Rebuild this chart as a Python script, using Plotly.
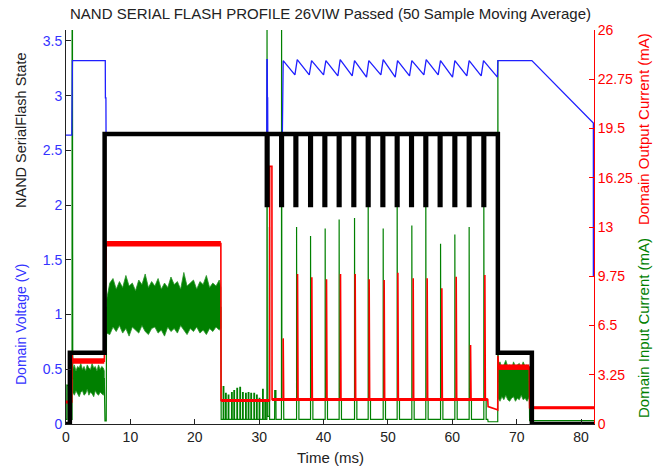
import plotly.graph_objects as go

# ---------------- data ----------------
x_tick_vals = [0, 10, 20, 30, 40, 50, 60, 70, 80]
x_tick_text = ["0", "10", "20", "30", "40", "50", "60", "70", "80"]
v_tick_vals = [0, 0.5, 1, 1.5, 2, 2.5, 3, 3.5]
v_tick_text = ["0", "0.5", "1", "1.5", "2", "2.5", "3", "3.5"]
i_tick_vals = [0, 3.25, 6.5, 9.75, 13, 16.25, 19.5, 22.75, 26]
i_tick_text = ["0", "3.25", "6.5", "9.75", "13", "16.25", "19.5", "22.75", "26"]

# NAND SerialFlash state (left axis units)
state_t = [0, 0.6, 0.6, 6.0, 6.0, 67.07, 67.07, 72.35, 72.35, 82.0]
state_v = [0, 0, 0.65, 0.65, 2.65, 2.65, 0.65, 0.65, 0, 0]
state_active_level = 2.65
state_pulse_level = 2.0
state_pulse_t = [31.24, 33.48, 35.7, 37.98, 40.2, 42.42, 44.7, 46.93,
                 49.21, 51.43, 53.66, 55.88, 58.1, 60.39, 62.61, 64.89]

# Domain voltage (V)
volt_head_t = [0, 0.9, 1.0, 6.1, 6.12, 6.2, 6.22, 31.18, 31.2, 31.26, 31.28, 31.32, 31.34, 33.6]
volt_head_v = [2.64, 2.64, 3.32, 3.32, 2.98, 2.98, 2.64, 2.64, 3.33, 3.33, 2.98, 2.98, 2.64, 2.64]
saw_peak_t = [33.73, 35.91, 38.14, 40.36, 42.58, 44.81, 47.03, 49.26,
              51.49, 53.71, 55.94, 58.16, 60.39, 62.61, 64.84]
saw_peak_v = [3.32, 3.33, 3.32, 3.32, 3.33, 3.32, 3.32, 3.33,
              3.32, 3.32, 3.33, 3.32, 3.32, 3.32, 3.32]
saw_trough_t = [35.55, 37.78, 40.0, 42.22, 44.45, 46.67, 48.9, 51.13,
                53.35, 55.58, 57.8, 60.03, 62.25, 64.48, 67.0]
saw_trough_v = [3.19, 3.19, 3.19, 3.18, 3.18, 3.17, 3.19, 3.17,
                3.18, 3.19, 3.19, 3.17, 3.18, 3.18, 3.17]
volt_tail_t = [67.07, 72.35, 81.9, 81.9]
volt_tail_v = [3.32, 3.32, 2.75, 1.35]

# Domain input current (mA)
in_head_t = [0, 0.12, 0.13, 0.35, 0.36, 0.94, 0.95, 1.0, 1.05, 5.95, 6.05, 6.25, 6.3, 24.05, 24.1]
in_head_v = [0.3, 0.3, 2.6, 2.5, 0.3, 0.3, 27.0, 27.0, 3.0, 3.0, 0.2, 0.2, 7.7, 7.7, 0.3]
in_idle_base = 0.3
in_idle_spk_t = [24.41, 24.78, 25.19, 25.71, 26.07, 26.54, 27.0, 27.42,
                 27.89, 28.3, 28.71, 29.18, 29.59, 30.0, 30.53, 30.89]
in_idle_spk_v = [2.46, 2.02, 1.91, 2.07, 2.2, 2.35, 2.42, 2.07,
                 2.02, 2.07, 2.02, 2.02, 1.91, 1.7, 2.29, 1.55]
in_mid_t = [31.2, 31.22, 31.27, 31.55, 31.57, 31.6, 31.62, 32.4, 32.42, 32.6, 32.62,
            33.46, 33.48, 33.53, 33.8, 33.82]
in_mid_v = [0.3, 27.0, 0.5, 0.5, 13.0, 13.0, 0.3, 0.3, 2.2, 2.2, 0.3,
            0.3, 27.0, 1.6, 1.6, 0.3]
in_prog_base = 0.3
in_prog_shelf = 1.6
in_prog_spk_t = [35.81, 37.98, 40.25, 42.42, 44.81, 46.93, 49.26,
                 51.43, 53.71, 55.88, 58.17, 60.39, 62.61, 64.89]
in_prog_spk_v = [13.0, 12.4, 12.9, 13.5, 13.6, 15.5, 12.9,
                 15.5, 13.1, 15.5, 11.9, 12.5, 13.0, 15.5]
in_tail_t = [65.5, 65.55, 67.05, 67.07, 67.12, 71.95, 72.0, 82.0]
in_tail_v = [0.3, 0.15, 0.15, 24.0, 2.8, 2.8, 0.22, 0.22]

# noisy input-current bands (upper / lower envelopes)
band1_t = [1.05, 1.3, 1.55, 1.8, 2.05, 2.3, 2.55, 2.8, 3.05, 3.3, 3.55, 3.8, 4.05,
           4.3, 4.55, 4.8, 5.05, 5.3, 5.55, 5.8, 5.95]
band1_hi = [3.6, 3.9, 3.5, 3.8, 3.7, 4.0, 3.6, 3.8, 3.5, 3.9, 3.7, 3.6, 4.0,
            3.7, 3.8, 3.5, 3.9, 3.6, 3.8, 3.7, 3.5]
band1_lo = [2.1, 1.9, 2.2, 2.0, 1.8, 2.1, 2.2, 1.9, 2.0, 2.3, 1.9, 2.1, 2.0,
            1.8, 2.2, 2.0, 1.9, 2.1, 2.0, 1.9, 2.1]
band2_t = [6.3, 6.8, 7.3, 7.8, 8.3, 8.8, 9.3, 9.8, 10.3, 10.8, 11.3, 11.8, 12.3,
           12.8, 13.3, 13.8, 14.3, 14.8, 15.3, 15.8, 16.3, 16.8, 17.3, 17.8, 18.3,
           18.8, 19.3, 19.8, 20.3, 20.8, 21.3, 21.8, 22.3, 22.8, 23.3, 23.8, 24.05]
band2_hi = [8.2, 9.3, 9.6, 8.9, 9.4, 9.0, 9.8, 9.1, 9.3, 8.8, 9.5, 9.2, 9.9,
            9.0, 9.4, 9.1, 9.6, 8.9, 9.3, 9.0, 9.7, 9.2, 9.4, 8.9, 10.0,
            9.1, 9.3, 9.5, 8.9, 9.4, 9.2, 9.8, 9.0, 9.3, 9.1, 9.5, 9.0]
band2_lo = [6.0, 5.9, 6.4, 6.1, 6.5, 6.0, 6.3, 5.8, 6.4, 6.2, 6.0, 6.5, 6.1,
            5.9, 6.3, 6.4, 6.0, 6.2, 5.8, 6.4, 6.1, 6.3, 6.0, 6.5, 6.2,
            5.9, 6.3, 6.1, 6.4, 6.0, 6.2, 5.9, 6.3, 6.1, 6.4, 6.2, 6.3]
band3_t = [67.12, 67.4, 67.7, 68.0, 68.3, 68.6, 68.9, 69.2, 69.5, 69.8, 70.1,
           70.4, 70.7, 71.0, 71.3, 71.6, 71.95]
band3_hi = [3.9, 4.1, 3.7, 3.9, 4.2, 3.8, 3.9, 3.6, 4.1, 3.8, 3.9,
            4.0, 3.7, 4.1, 3.8, 3.9, 3.7]
band3_lo = [1.7, 1.5, 1.8, 1.6, 1.9, 1.6, 1.5, 1.7, 1.8, 1.5, 1.7,
            1.6, 1.9, 1.6, 1.7, 1.5, 1.8]

# Domain output current (mA)
out_head_t = [0, 0.9, 0.93, 1.05, 5.95, 6.25, 24.05, 24.08, 31.62, 31.64, 31.98, 32.0]
out_head_v = [1.45, 1.45, 4.6, 4.15, 4.15, 11.9, 11.9, 1.55, 1.55, 17.0, 17.0, 1.62]
out_base = 1.62
out_spk_t = [33.73, 35.96, 38.18, 40.46, 42.63, 44.91, 47.08, 49.41,
             51.54, 53.92, 56.09, 58.37, 60.6, 62.83, 65.05]
out_spk_v = [5.65, 9.9, 9.68, 9.55, 9.9, 9.9, 9.55, 9.5,
             9.98, 9.61, 9.61, 8.95, 9.72, 5.21, 9.83]
out_tail_t = [65.5, 65.55, 66.9, 67.05, 67.08, 67.2, 71.95, 72.0, 82.0]
out_tail_v = [1.62, 1.15, 0.95, 0.92, 4.5, 3.75, 3.75, 1.08, 1.08]
# noisy (thick) output-current plateaus
out_band_t0 = [1.05, 6.3, 67.15]
out_band_t1 = [5.95, 24.05, 71.95]
out_band_v = [4.15, 11.9, 3.75]
out_floor_t0 = [0, 24.1, 32.0, 72.0]
out_floor_t1 = [0.9, 31.6, 65.5, 82.0]
out_floor_v = [1.45, 1.55, 1.62, 1.08]

# ---------------- build polylines ----------------
GREEN = "#008000"
RED = "#ff0000"
BLUE = "#1f1fff"
LBLUE = "#3333ff"

bx, by = [], []
for i, (t, v) in enumerate(zip(state_t, state_v)):
    bx.append(t)
    by.append(v)
    if i + 1 < len(state_t) and v == state_active_level and state_v[i + 1] == state_active_level:
        for tp in state_pulse_t:
            if t < tp < state_t[i + 1]:
                bx += [tp - 0.05, tp - 0.05, tp + 0.05, tp + 0.05]
                by += [state_active_level, state_pulse_level, state_pulse_level, state_active_level]

vx, vy = list(volt_head_t), list(volt_head_v)
for pt, pv, tt, tv in zip(saw_peak_t, saw_peak_v, saw_trough_t, saw_trough_v):
    vx += [pt, tt]
    vy += [pv, tv]
vx += volt_tail_t
vy += volt_tail_v

gx, gy = list(in_head_t), list(in_head_v)
for t, v in zip(in_idle_spk_t, in_idle_spk_v):
    gx += [t, t, t + 0.1, t + 0.1]
    gy += [in_idle_base, v, v, in_idle_base]
gx += in_mid_t
gy += in_mid_v
for t, v in zip(in_prog_spk_t, in_prog_spk_v):
    gx += [t, t, t + 0.04, t + 0.04, t + 0.36, t + 0.36]
    gy += [in_prog_base, v, v, in_prog_shelf, in_prog_shelf, in_prog_base]
gx += in_tail_t
gy += in_tail_v

px, py = [], []
for bt, hi, lo in [(band1_t, band1_hi, band1_lo), (band2_t, band2_hi, band2_lo),
                   (band3_t, band3_hi, band3_lo)]:
    px += list(bt) + list(reversed(bt)) + [bt[0], None]
    py += list(hi) + list(reversed(lo)) + [hi[0], None]

rx, ry = list(out_head_t), list(out_head_v)
for t, v in zip(out_spk_t, out_spk_v):
    rx += [t, t, t + 0.08, t + 0.08]
    ry += [out_base, v, v, out_base]
rx += out_tail_t
ry += out_tail_v

pbx, pby = [], []
for a, b, v in zip(out_band_t0, out_band_t1, out_band_v):
    pbx += [a, b, None]
    pby += [v, v, None]
fbx, fby = [], []
for a, b, v in zip(out_floor_t0, out_floor_t1, out_floor_v):
    fbx += [a, b, None]
    fby += [v, v, None]

# ---------------- figure ----------------
fig = go.Figure()
fig.add_trace(go.Scatter(x=px, y=py, mode="lines", fill="toself", fillcolor=GREEN,
                         line=dict(color="#2a942a", width=0.8), yaxis="y", hoverinfo="skip"))
fig.add_trace(go.Scatter(x=gx, y=gy, mode="lines", line=dict(color=GREEN, width=1.2), yaxis="y"))
fig.add_trace(go.Scatter(x=fbx, y=fby, mode="lines", line=dict(color=RED, width=3), yaxis="y"))
fig.add_trace(go.Scatter(x=pbx, y=pby, mode="lines", line=dict(color=RED, width=5.5), yaxis="y"))
fig.add_trace(go.Scatter(x=rx, y=ry, mode="lines", line=dict(color=RED, width=1.6), yaxis="y"))
fig.add_trace(go.Scatter(x=vx, y=vy, mode="lines", line=dict(color=BLUE, width=1.3), yaxis="y2"))
fig.add_trace(go.Scatter(x=bx, y=by, mode="lines", line=dict(color="black", width=4.5), yaxis="y2"))

FONT = "Liberation Sans, Arial, sans-serif"
fig.update_layout(
    width=665, height=469,
    margin=dict(l=66, r=71, t=30, b=45),
    plot_bgcolor="white", paper_bgcolor="white",
    showlegend=False,
    font=dict(family=FONT, size=14, color="#222"),
    xaxis=dict(range=[0, 82], tickvals=x_tick_vals, ticktext=x_tick_text,
               ticks="inside", ticklen=5, tickcolor="#222", showline=True,
               linecolor="#222", linewidth=1, showgrid=False, zeroline=False,
               tickfont=dict(size=14, color="#222")),
    yaxis=dict(range=[0, 26], side="right", tickvals=i_tick_vals, ticktext=i_tick_text,
               ticks="inside", ticklen=5, tickcolor=RED, showline=True, linecolor=RED,
               linewidth=1, showgrid=False, zeroline=False,
               tickfont=dict(size=14, color=RED)),
    yaxis2=dict(range=[0, 3.6], side="left", overlaying="y", tickvals=v_tick_vals,
                ticktext=v_tick_text, ticks="inside", ticklen=5, tickcolor="#222",
                showline=True, linecolor="#222", linewidth=1, showgrid=False,
                zeroline=False, tickfont=dict(size=14, color=LBLUE)),
)

ann = [
    dict(text="NAND SERIAL FLASH PROFILE 26VIW Passed (50 Sample Moving Average)",
         x=0.5, y=(424 - 13) / 394, font=dict(size=15, color="#222")),
    dict(text="Time (ms)", x=0.5, y=(424 - 457) / 394, font=dict(size=15, color="#222")),
    dict(text="NAND SerialFlash State", x=(21 - 66) / 528, y=(424 - 130) / 394,
         textangle=-90, font=dict(size=14.5, color="#222")),
    dict(text="Domain Voltage (V)", x=(21 - 66) / 528, y=(424 - 325) / 394,
         textangle=-90, font=dict(size=14, color=LBLUE)),
    dict(text="Domain Output Current (mA)", x=(643 - 66) / 528, y=(424 - 129) / 394,
         textangle=-90, font=dict(size=15, color=RED)),
    dict(text="Domain Input Current (mA)", x=(643 - 66) / 528, y=(424 - 328) / 394,
         textangle=-90, font=dict(size=15, color=GREEN)),
]
for a in ann:
    a.update(xref="paper", yref="paper", showarrow=False, xanchor="center", yanchor="middle")
fig.update_layout(annotations=ann)

# remove the page's default 8 px body margin so the figure fills the window exactly,
# and hide the interactive mode bar
fig.write_html("out.html", config={"displayModeBar": False},
               post_script="document.body.style.margin='0';")
